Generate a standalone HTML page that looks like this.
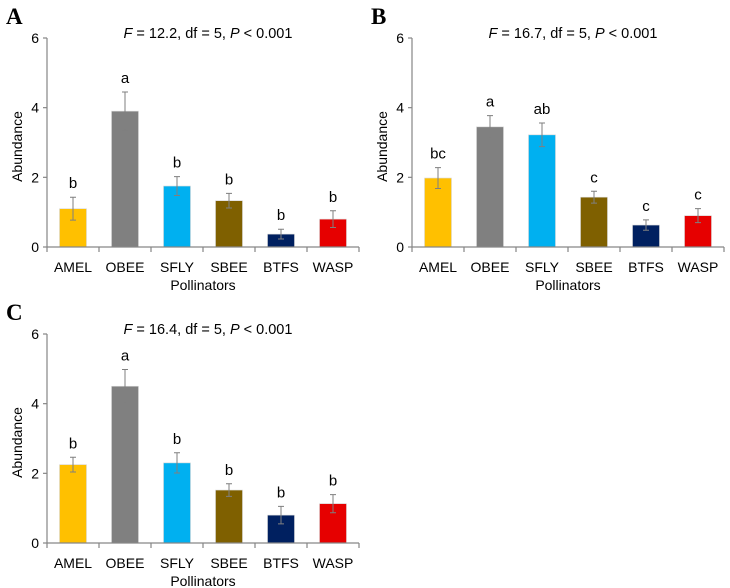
<!DOCTYPE html>
<html><head><meta charset="utf-8"><style>
body{margin:0;background:#fff;width:730px;height:588px;overflow:hidden}
svg{display:block;font-family:"Liberation Sans",sans-serif}
</style></head><body>
<svg id="chart" width="730" height="588" viewBox="0 0 730 588"></svg>
<script>
const categories=["AMEL","OBEE","SFLY","SBEE","BTFS","WASP"];
const colors=["#FFC000","#808080","#00B0F0","#7F6000","#002060","#E60000"];
const yTicks=[0,2,4,6];
const valuesA=[1.1,3.9,1.75,1.33,0.37,0.8];
const errorsA=[0.33,0.55,0.27,0.21,0.14,0.24];
const lettersA=["b","a","b","b","b","b"];
const valuesB=[1.98,3.45,3.22,1.43,0.63,0.9];
const errorsB=[0.3,0.32,0.34,0.17,0.15,0.2];
const lettersB=["bc","a","ab","c","c","c"];
const valuesC=[2.25,4.5,2.3,1.52,0.8,1.13];
const errorsC=[0.21,0.48,0.29,0.18,0.25,0.26];
const lettersC=["b","a","b","b","b","b"];
const statsA="12.2", statsB="16.7", statsC="16.4";
const NS="http://www.w3.org/2000/svg";
const svg=document.getElementById('chart');
function mk(tag,attrs,parent,text){const e=document.createElementNS(NS,tag);for(const k in attrs)e.setAttribute(k,attrs[k]);if(text!==undefined)e.textContent=text;parent.appendChild(e);return e;}
function panel(id,ox,oy,vals,errs,lets,fval){
  const g=mk('g',{},svg);
  
  
  const x0=ox+47,x1=ox+359,y0=oy+247,y6=oy+38;
  const y=v=>y0-(y0-y6)*v/6;
  const step=(x1-x0)/categories.length;
  const xc=i=>x0+step*(i+0.5);
  const lab=mk('text',{x:ox+6,y:oy+24,'font-family':'Liberation Serif,serif','font-weight':'bold','font-size':'23',fill:'#000'},g,id);
  
  
  const st=mk('text',{x:ox+208,y:oy+38,'text-anchor':'middle','font-size':'14.5',fill:'#000'},g);
  
  
  mk('tspan',{'font-style':'italic'},st,'F');
  mk('tspan',{},st,' = '+fval+', df = 5, ');
  mk('tspan',{'font-style':'italic'},st,'P');
  mk('tspan',{},st,' < 0.001');
  const ya=mk('line',{x1:x0,y1:y6,x2:x0,y2:y0,stroke:'#868686','stroke-width':1.2},g);
  
  
  yTicks.forEach(t=>{
    mk('line',{x1:x0-4,y1:y(t),x2:x0,y2:y(t),stroke:'#868686','stroke-width':1.2},g);
    const tl=mk('text',{x:x0-8,y:y(t)+5,'text-anchor':'end','font-size':'14',fill:'#000'},g,t);
    
    
  });
  const yt=mk('text',{transform:`translate(${ox+22},${(y0+y6)/2+4}) rotate(-90)`,'text-anchor':'middle','font-size':'14',fill:'#000'},g,'Abundance');
  
  
  categories.forEach((c,i)=>{
    const bw=27;
    const b=mk('rect',{x:xc(i)-bw/2,y:y(vals[i]),width:bw,height:y0-y(vals[i]),fill:colors[i],stroke:'#d9d9d9','stroke-width':0.6},g);
    
    
    const top=y(vals[i]+errs[i]),bot=y(vals[i]-errs[i]);
    const eb=mk('path',{d:`M${xc(i)},${top}V${bot}M${xc(i)-3},${top}H${xc(i)+3}M${xc(i)-3},${bot}H${xc(i)+3}`,stroke:'#7f7f7f','stroke-width':1,fill:'none'},g);
    
    
    const lt=mk('text',{x:xc(i),y:top-9,'text-anchor':'middle','font-size':'15',fill:'#000'},g,lets[i]);
    
    
    const xl=mk('text',{x:xc(i),y:y0+25,'text-anchor':'middle','font-size':'14',fill:'#000'},g,c);
    
    
  });
  const xa=mk('line',{x1:x0,y1:y0,x2:x1,y2:y0,stroke:'#868686','stroke-width':1.2},g);
  
  
  for(let i=0;i<=categories.length;i++) mk('line',{x1:x0+step*i,y1:y0,x2:x0+step*i,y2:y0+5,stroke:'#868686','stroke-width':1.2},g);
  const xt=mk('text',{x:(x0+x1)/2,y:oy+290,'text-anchor':'middle','font-size':'14',fill:'#000'},g,'Pollinators');
  
  
}
panel('A',0,0,valuesA,errorsA,lettersA,statsA);
panel('B',365,0,valuesB,errorsB,lettersB,statsB);
panel('C',0,296,valuesC,errorsC,lettersC,statsC);
</script>
</body></html>
